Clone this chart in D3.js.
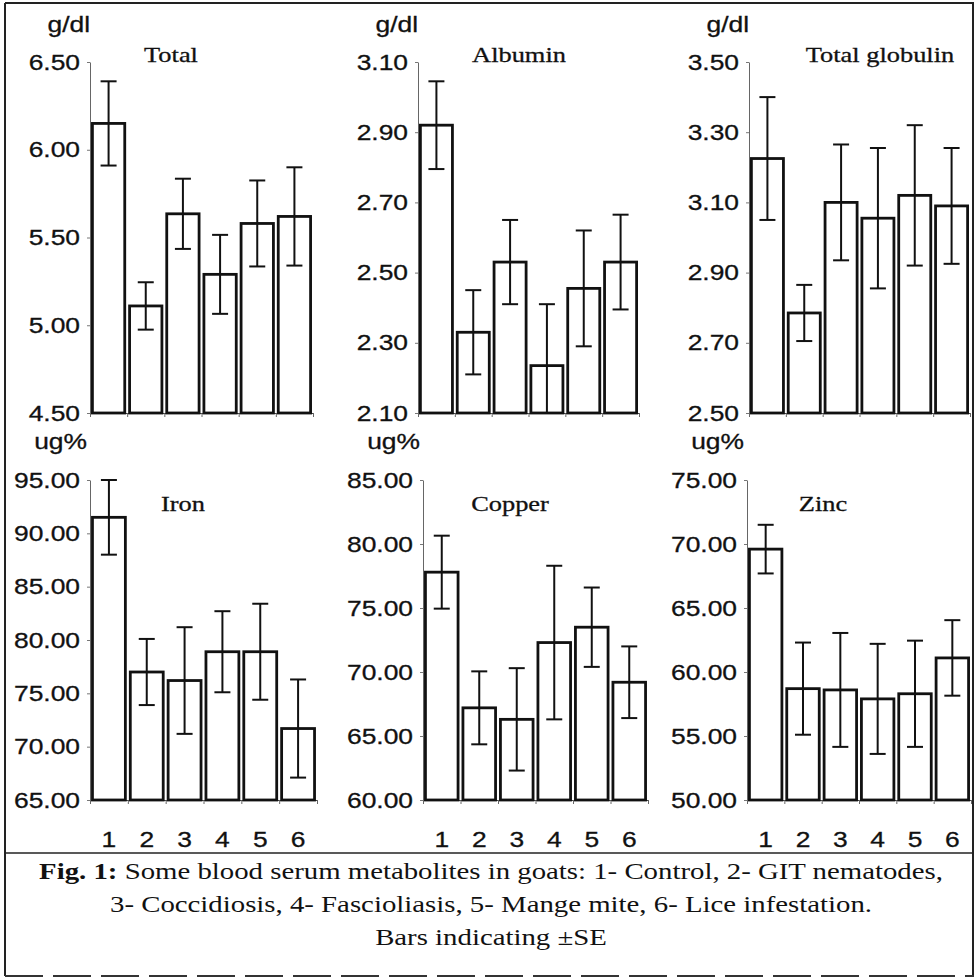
<!DOCTYPE html>
<html>
<head>
<meta charset="utf-8">
<script src="https://cdn.jsdelivr.net/npm/d3@7"></script>
<style>
  html, body { margin: 0; padding: 0; background: #fff; }
  svg { display: block; }
</style>
</head>
<body>
<script>
// Data
const groups = ['1', '2', '3', '4', '5', '6'];
const panelTitles = ['Total', 'Albumin', 'Total globulin', 'Iron', 'Copper', 'Zinc'];
const unitLabels = ['g/dl', 'g/dl', 'g/dl', 'ug%', 'ug%', 'ug%'];

const totalMean    = [6.15, 5.11, 5.635, 5.29, 5.58, 5.62];
const totalSE      = [0.24, 0.135, 0.20, 0.225, 0.245, 0.28];
const albuminMean  = [2.92, 2.33, 2.53, 2.235, 2.455, 2.53];
const albuminSE    = [0.125, 0.12, 0.12, 0.175, 0.165, 0.135];
const globulinMean = [3.225, 2.785, 3.10, 3.055, 3.12, 3.09];
const globulinSE   = [0.175, 0.08, 0.165, 0.20, 0.20, 0.165];
const ironMean     = [91.5, 77.0, 76.2, 78.9, 78.9, 71.7];
const ironSE       = [3.5, 3.1, 5.0, 3.8, 4.5, 4.6];
const copperMean   = [77.8, 67.2, 66.3, 72.3, 73.5, 69.2];
const copperSE     = [2.85, 2.85, 4.0, 6.0, 3.1, 2.8];
const zincMean     = [69.6, 58.7, 58.6, 57.9, 58.3, 61.1];
const zincSE       = [1.9, 3.6, 4.45, 4.3, 4.15, 2.95];

const totalTicks    = [4.5, 5.0, 5.5, 6.0, 6.5];
const albuminTicks  = [2.1, 2.3, 2.5, 2.7, 2.9, 3.1];
const globulinTicks = [2.5, 2.7, 2.9, 3.1, 3.3, 3.5];
const ironTicks     = [65, 70, 75, 80, 85, 90, 95];
const copperTicks   = [60, 65, 70, 75, 80, 85];
const zincTicks     = [50, 55, 60, 65, 70, 75];

const captionLines = [
  ['Fig. 1:', ' Some blood serum metabolites in goats: 1- Control, 2- GIT nematodes,'],
  ['', '3- Coccidiosis, 4- Fascioliasis, 5- Mange mite, 6- Lice infestation.'],
  ['', 'Bars indicating \u00B1SE']
];

const panels = [
  { mean: totalMean,    se: totalSE,    ticks: totalTicks },
  { mean: albuminMean,  se: albuminSE,  ticks: albuminTicks },
  { mean: globulinMean, se: globulinSE, ticks: globulinTicks },
  { mean: ironMean,     se: ironSE,     ticks: ironTicks },
  { mean: copperMean,   se: copperSE,   ticks: copperTicks },
  { mean: zincMean,     se: zincSE,     ticks: zincTicks }
];

// Layout (pixel positions of each panel)
const layout = [
  { x0: 90,  x1: 313, y0: 413, y1: 62,  tx: 171, ty: 62 },
  { x0: 418, x1: 639, y0: 413, y1: 62,  tx: 519, ty: 62 },
  { x0: 749, x1: 970, y0: 413, y1: 62,  tx: 880, ty: 62 },
  { x0: 90,  x1: 317, y0: 800, y1: 480, tx: 183, ty: 511 },
  { x0: 423, x1: 648, y0: 800, y1: 480, tx: 510, ty: 511 },
  { x0: 747, x1: 971, y0: 800, y1: 480, tx: 823, ty: 511 }
];

const SANS = '"Liberation Sans", Arial, sans-serif';
const SERIF = '"Liberation Serif", "Times New Roman", serif';
const SX = 1.2; // scan is stretched horizontally
const INK = '#111';

const W = 977, H = 978;
const svg = d3.select('body').append('svg').attr('width', W).attr('height', H);
svg.append('rect').attr('width', W).attr('height', H).attr('fill', '#fff');

function stretched(parent, x, y, txt, anchor, family, size) {
  return parent.append('text')
    .attr('transform', 'translate(' + x + ',' + y + ') scale(' + SX + ',1)')
    .attr('text-anchor', anchor)
    .attr('font-family', family)
    .attr('font-size', size)
    .attr('fill', INK)
    .attr('stroke', INK).attr('stroke-width', 0.3)
    .text(txt);
}

// Outer frame
svg.append('line').attr('x1', 5).attr('y1', 3).attr('x2', 974).attr('y2', 3)
   .attr('stroke', '#222').attr('stroke-width', 2);
svg.append('line').attr('x1', 5).attr('y1', 3).attr('x2', 5).attr('y2', 976)
   .attr('stroke', '#222').attr('stroke-width', 2);
svg.append('line').attr('x1', 973).attr('y1', 3).attr('x2', 973).attr('y2', 976)
   .attr('stroke', '#222').attr('stroke-width', 2);
svg.append('line').attr('x1', 5).attr('y1', 976).attr('x2', 974).attr('y2', 976)
   .attr('stroke', '#333').attr('stroke-width', 2).attr('stroke-dasharray', '38,10');
svg.append('line').attr('x1', 5).attr('y1', 853).attr('x2', 974).attr('y2', 853)
   .attr('stroke', '#222').attr('stroke-width', 1.5);

panels.forEach((p, k) => {
  const L = layout[k];
  const g = svg.append('g');
  const dom = d3.extent(p.ticks);

  const x = d3.scaleBand().domain(groups).range([L.x0, L.x1])
    .paddingInner(0.13).paddingOuter(0.065);
  const y = d3.scaleLinear().domain(dom).range([L.y0, L.y1]);

  // y axis
  const ya = g.append('g').attr('transform', 'translate(' + L.x0 + ',0)')
    .call(d3.axisLeft(y).tickValues(p.ticks).tickSize(3).tickSizeOuter(0)
      .tickPadding(7).tickFormat(d3.format('.2f')));
  ya.select('.domain').attr('stroke', '#666').attr('stroke-width', 1);
  ya.selectAll('.tick line').attr('stroke', '#777');
  ya.selectAll('.tick text')
    .attr('font-family', SANS).attr('font-size', 22).attr('fill', INK)
    .attr('stroke', INK).attr('stroke-width', 0.3)
    .attr('x', -10 / SX).attr('transform', 'scale(' + SX + ',1)');

  // x axis baseline with ticks at group boundaries
  const xb = d3.scaleLinear().domain([0, groups.length]).range([L.x0, L.x1]);
  const xa = g.append('g').attr('transform', 'translate(0,' + L.y0 + ')')
    .call(d3.axisBottom(xb).tickValues(d3.range(groups.length + 1))
      .tickSize(4).tickSizeOuter(0).tickFormat(''));
  xa.select('.domain').attr('stroke', '#444').attr('stroke-width', 1);
  xa.selectAll('.tick line').attr('stroke', '#666');

  // group numbers only on bottom row
  if (k >= 3) {
    const xl = g.append('g').attr('transform', 'translate(0,' + L.y0 + ')')
      .call(d3.axisBottom(x).tickSize(0).tickPadding(31));
    xl.select('.domain').remove();
    xl.selectAll('.tick text')
      .attr('font-family', SANS).attr('font-size', 22).attr('fill', INK)
      .attr('stroke', INK).attr('stroke-width', 0.3)
      .attr('transform', 'scale(' + SX + ',1)');
  }

  // bars
  const rows = groups.map((d, i) => ({ key: d, m: p.mean[i], s: p.se[i] }));
  g.selectAll('rect.bar').data(rows).enter().append('rect')
    .attr('class', 'bar')
    .attr('x', d => x(d.key))
    .attr('width', x.bandwidth())
    .attr('y', d => y(d.m))
    .attr('height', d => y(dom[0]) - y(d.m))
    .attr('fill', '#fff')
    .attr('stroke', INK)
    .attr('stroke-width', 2.8);

  // error bars
  const cap = 8;
  const eb = g.selectAll('g.err').data(rows).enter().append('g').attr('class', 'err')
    .attr('stroke', INK).attr('stroke-width', 2);
  eb.append('line')
    .attr('x1', d => x(d.key) + x.bandwidth() / 2)
    .attr('x2', d => x(d.key) + x.bandwidth() / 2)
    .attr('y1', d => y(d.m + d.s))
    .attr('y2', d => y(Math.max(d.m - d.s, dom[0])));
  eb.append('line')
    .attr('x1', d => x(d.key) + x.bandwidth() / 2 - cap)
    .attr('x2', d => x(d.key) + x.bandwidth() / 2 + cap)
    .attr('y1', d => y(d.m + d.s))
    .attr('y2', d => y(d.m + d.s));
  eb.filter(d => d.m - d.s > dom[0]).append('line')
    .attr('x1', d => x(d.key) + x.bandwidth() / 2 - cap)
    .attr('x2', d => x(d.key) + x.bandwidth() / 2 + cap)
    .attr('y1', d => y(d.m - d.s))
    .attr('y2', d => y(d.m - d.s));

  // unit label and title
  if (k < 3) stretched(g, L.x0, 32, unitLabels[k], 'end', SANS, 22);
  else stretched(g, L.x0 - 3, 449, unitLabels[k], 'end', SANS, 22);
  stretched(g, L.tx, L.ty, panelTitles[k], 'middle', SERIF, 22);
});

// caption
captionLines.forEach((ln, i) => {
  const t = svg.append('text')
    .attr('transform', 'translate(491,' + (879 + i * 33) + ') scale(' + SX + ',1)')
    .attr('text-anchor', 'middle')
    .attr('font-family', SERIF)
    .attr('font-size', 24)
    .attr('fill', INK);
  if (ln[0]) t.append('tspan').attr('font-weight', 'bold').text(ln[0]);
  t.append('tspan').text(ln[1]);
});
</script>
</body>
</html>
